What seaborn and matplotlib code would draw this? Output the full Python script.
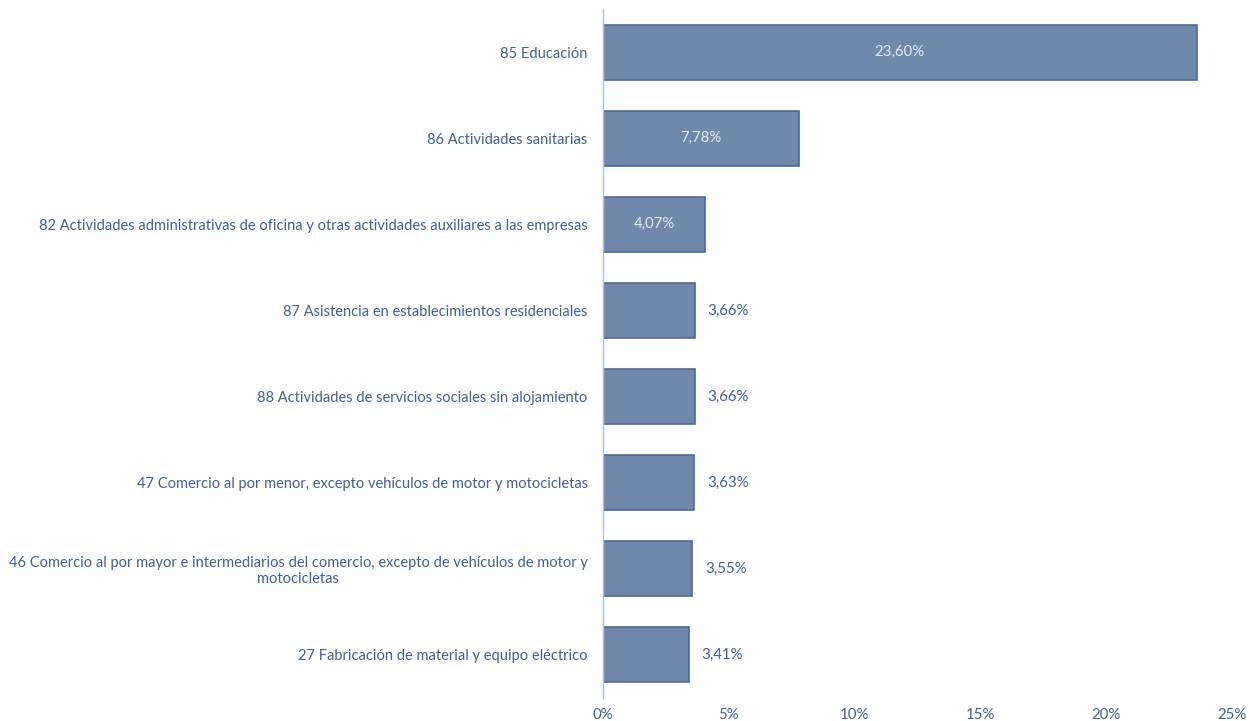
import matplotlib
matplotlib.use('Agg')
import matplotlib.pyplot as plt
import seaborn as sns
import pandas as pd

# datos
sectores = [
    '85 Educación',
    '86 Actividades sanitarias',
    '82 Actividades administrativas de oficina y otras actividades auxiliares a las empresas',
    '87 Asistencia en establecimientos residenciales',
    '88 Actividades de servicios sociales sin alojamiento',
    '47 Comercio al por menor, excepto vehículos de motor y motocicletas',
    '46 Comercio al por mayor e intermediarios del comercio, excepto de vehículos de motor y\nmotocicletas',
    '27 Fabricación de material y equipo eléctrico',
]
porcentajes = [23.60, 7.78, 4.07, 3.66, 3.66, 3.63, 3.55, 3.41]
ticks_x = [0, 5, 10, 15, 20, 25]

df = pd.DataFrame({'sector': sectores, 'pct': porcentajes})

sns.set_style('white')
plt.rcParams['font.family'] = ['Lato', 'DejaVu Sans']

azul_txt = '#41608F'
fs = 10.8
fig = plt.figure(figsize=(12.5, 7.21), dpi=100)
ax = fig.add_axes([0.4824, 0.032, 0.5032, 0.9555])

sns.barplot(data=df, x='pct', y='sector', color='#6F88AC', saturation=1,
            width=0.64, edgecolor='#50698F', linewidth=1.2, ax=ax)

for i, v in enumerate(porcentajes):
    txt = f'{v:.2f}%'.replace('.', ',')
    if v > 4:
        ax.text(v / 2, i, txt, ha='center', va='center', color='#E6ECF5', fontsize=fs)
    else:
        ax.text(v + 0.5, i, txt, ha='left', va='center', color=azul_txt, fontsize=fs)

ax.set_xlim(0, 25)
ax.set_xticks(ticks_x)
ax.set_xticklabels([f'{t}%' for t in ticks_x], color=azul_txt, fontsize=fs)
ax.tick_params(axis='x', length=0, pad=7)
ax.tick_params(axis='y', length=0, pad=11)
for lab in ax.get_yticklabels():
    lab.set_color(azul_txt)
    lab.set_fontsize(10.5)
    lab.set_multialignment('center')
ax.set_xlabel('')
ax.set_ylabel('')
for s in ['top', 'right', 'bottom']:
    ax.spines[s].set_visible(False)
ax.spines['left'].set_color('#A9C0E0')
ax.spines['left'].set_linewidth(1)

plt.savefig('out.png', dpi=100)
plt.close('all')
